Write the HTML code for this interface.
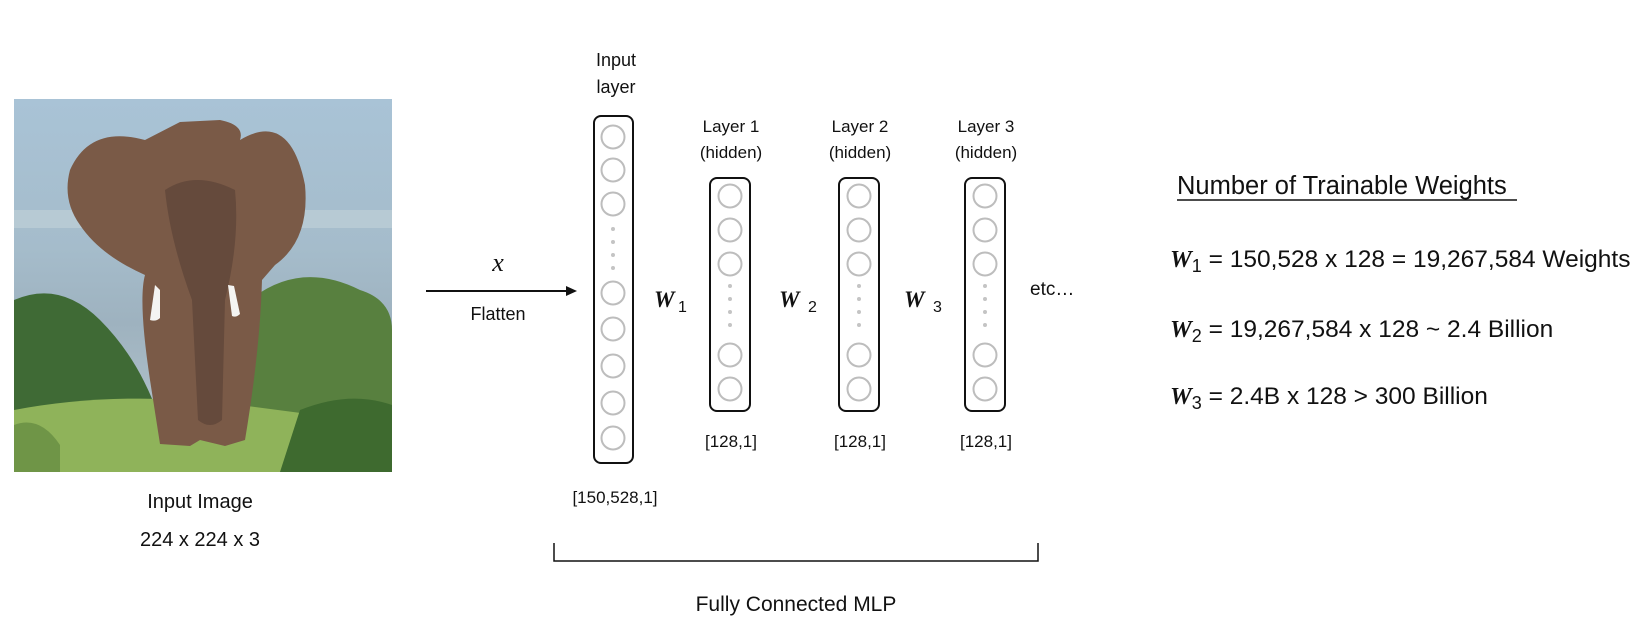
<!DOCTYPE html>
<html><head><meta charset="utf-8"><style>
html,body{margin:0;padding:0;background:#fff;}
svg{display:block;}
text{font-family:"Liberation Sans",sans-serif;fill:#111;}
</style></head><body>
<svg width="1640" height="625" viewBox="0 0 1640 625" xmlns="http://www.w3.org/2000/svg">
<defs>
<linearGradient id="sky" x1="0" y1="0" x2="0" y2="1">
<stop offset="0" stop-color="#a9c3d6"/><stop offset="0.4" stop-color="#a5bccb"/><stop offset="0.6" stop-color="#9eb2bf"/><stop offset="1" stop-color="#b9c9cf"/>
</linearGradient>
</defs>
<g>
<rect x="14" y="99" width="378" height="373" fill="url(#sky)"/>
<rect x="14" y="210" width="378" height="18" fill="#c3d2d9" opacity="0.6"/>
<path d="M14 300 Q60 280 100 320 Q140 360 160 420 L14 472Z" fill="#3f6a35"/>
<path d="M250 300 Q300 260 360 290 Q392 300 392 330 L392 472 L240 472Z" fill="#58803f"/>
<path d="M14 410 Q120 390 240 405 L392 425 L392 472 L14 472Z" fill="#8fb35a"/>
<path d="M300 410 Q350 390 392 405 L392 472 L280 472Z" fill="#3e6a2f"/>
<path d="M14 425 Q40 415 60 445 L60 472 L14 472Z" fill="#6f9547"/>
<path d="M70 170 Q90 125 145 140 L180 122 L220 120 Q245 125 240 140 Q290 110 305 185 Q310 240 275 265 L262 280 Q260 350 245 440 L225 446 L200 440 L190 446 L160 444 L150 380 Q138 300 145 275 Q100 255 80 225 Q62 200 70 170Z" fill="#7a5a47"/>
<path d="M165 190 Q195 170 235 190 Q240 240 225 300 L222 420 Q210 430 198 420 L192 300 Q170 240 165 190Z" fill="#654a3c"/>
<path d="M155 285 L150 320 Q156 322 160 318 L160 290Z" fill="#f4f4f2"/>
<path d="M228 285 L232 316 Q236 318 240 314 L234 286Z" fill="#f4f4f2"/>
</g>
<text x="200" y="508" font-size="20" text-anchor="middle">Input Image</text>
<text x="200" y="546" font-size="20" text-anchor="middle">224 x 224 x 3</text>

<line x1="426" y1="291" x2="568" y2="291" stroke="#111" stroke-width="2"/>
<polygon points="577,291 566,286 566,296" fill="#111"/>
<text x="498" y="271" font-size="26" font-style="italic" text-anchor="middle" style="font-family:'Liberation Serif',serif">x</text>
<text x="498" y="320" font-size="18" text-anchor="middle">Flatten</text>

<text x="616" y="66" font-size="18" text-anchor="middle">Input</text>
<text x="616" y="93" font-size="18" text-anchor="middle">layer</text>
<rect x="594" y="116" width="39" height="347" rx="7" fill="#fff" stroke="#111" stroke-width="2"/>
<g fill="none" stroke="#bdbdbd" stroke-width="2">
<circle cx="613" cy="137" r="11.5"/><circle cx="613" cy="170" r="11.5"/><circle cx="613" cy="204" r="11.5"/>
<circle cx="613" cy="293" r="11.5"/><circle cx="613" cy="329" r="11.5"/><circle cx="613" cy="366" r="11.5"/><circle cx="613" cy="403" r="11.5"/><circle cx="613" cy="438" r="11.5"/>
</g>
<g fill="#c4c4c4"><circle cx="613" cy="229" r="2"/><circle cx="613" cy="242" r="2"/><circle cx="613" cy="255" r="2"/><circle cx="613" cy="268" r="2"/></g>
<text x="615" y="503" font-size="17" text-anchor="middle">[150,528,1]</text>

<g id="h">
<rect x="710" y="178" width="40" height="233" rx="7" fill="#fff" stroke="#111" stroke-width="2"/>
<g fill="none" stroke="#bdbdbd" stroke-width="2">
<circle cx="730" cy="196" r="11.5"/><circle cx="730" cy="230" r="11.5"/><circle cx="730" cy="264" r="11.5"/>
<circle cx="730" cy="355" r="11.5"/><circle cx="730" cy="389" r="11.5"/></g>
<g fill="#c4c4c4"><circle cx="730" cy="286" r="2"/><circle cx="730" cy="299" r="2"/><circle cx="730" cy="312" r="2"/><circle cx="730" cy="325" r="2"/></g>
</g>
<use href="#h" x="129"/>
<use href="#h" x="255"/>
<g font-size="17" text-anchor="middle">
<text x="731" y="132">Layer 1</text><text x="731" y="158">(hidden)</text><text x="731" y="447">[128,1]</text>
<text x="860" y="132">Layer 2</text><text x="860" y="158">(hidden)</text><text x="860" y="447">[128,1]</text>
<text x="986" y="132">Layer 3</text><text x="986" y="158">(hidden)</text><text x="986" y="447">[128,1]</text>
</g>
<g font-size="23" font-weight="bold" font-style="italic">
<text x="654" y="307" style="font-family:'Liberation Serif',serif">W</text>
<text x="779" y="307" style="font-family:'Liberation Serif',serif">W</text>
<text x="904" y="307" style="font-family:'Liberation Serif',serif">W</text>
</g>
<g font-size="16"><text x="678" y="312">1</text><text x="808" y="312">2</text><text x="933" y="312">3</text></g>
<text x="1030" y="295" font-size="19">etc…</text>

<path d="M554 543 L554 561 L1038 561 L1038 543" fill="none" stroke="#111" stroke-width="1.5"/>
<text x="796" y="611" font-size="21" text-anchor="middle">Fully Connected MLP</text>

<text x="1177" y="194" font-size="25.5">Number of Trainable Weights</text>
<line x1="1177" y1="200" x2="1517" y2="200" stroke="#111" stroke-width="1.5"/>
<g font-size="24.5">
<text x="1170" y="267"><tspan font-weight="bold" font-style="italic" style="font-family:'Liberation Serif',serif">W</tspan><tspan font-size="18" dy="5">1</tspan><tspan dy="-5"> = 150,528 x 128 = 19,267,584 Weights</tspan></text>
<text x="1170" y="337"><tspan font-weight="bold" font-style="italic" style="font-family:'Liberation Serif',serif">W</tspan><tspan font-size="18" dy="5">2</tspan><tspan dy="-5"> = 19,267,584 x 128 ~ 2.4 Billion</tspan></text>
<text x="1170" y="404"><tspan font-weight="bold" font-style="italic" style="font-family:'Liberation Serif',serif">W</tspan><tspan font-size="18" dy="5">3</tspan><tspan dy="-5"> = 2.4B x 128 &gt; 300 Billion</tspan></text>
</g>
</svg>
</body></html>
